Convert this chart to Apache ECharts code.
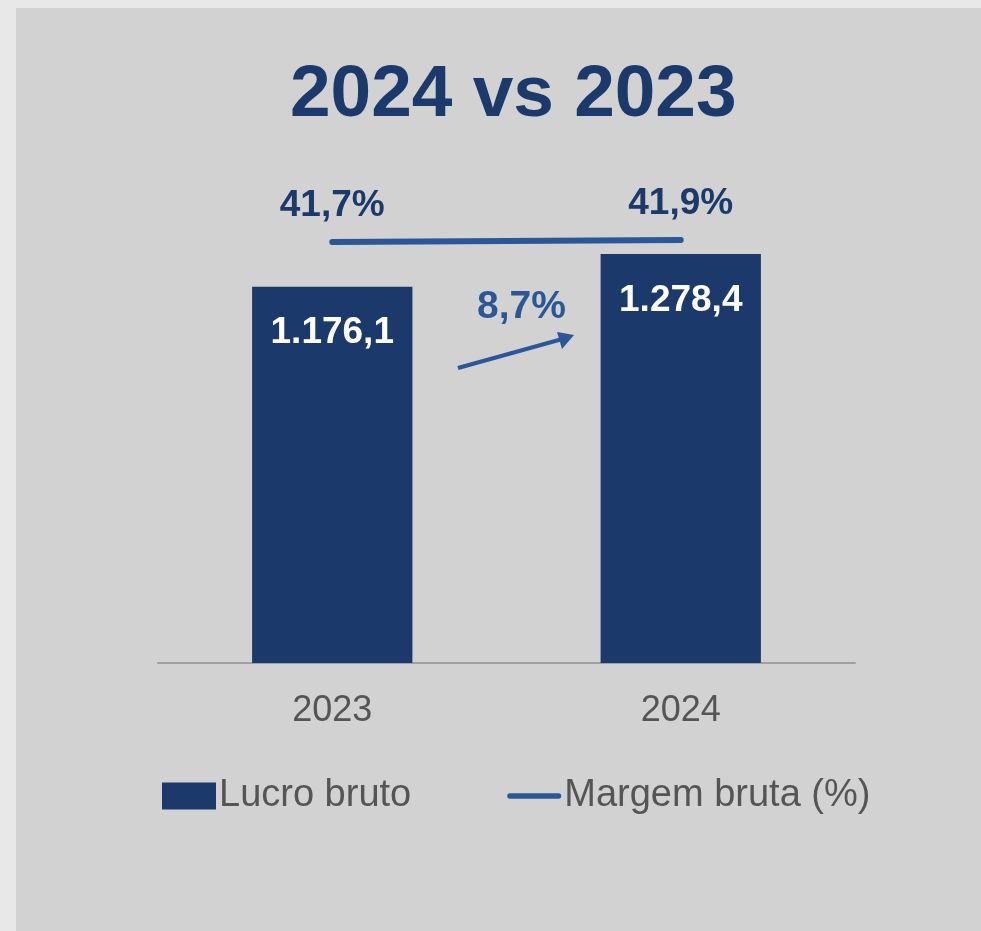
<!DOCTYPE html>
<html><head><meta charset="utf-8">
<script src="https://cdn.jsdelivr.net/npm/echarts@6/dist/echarts.min.js"></script>
<style>html,body{margin:0;padding:0;background:#e8e8e8}#c{width:981px;height:931px}</style>
</head><body><div id="c"></div>
<script>
const categories = ['2023', '2024'];
const lucroBruto = [1176.1, 1278.4];
const lucroLabels = ['1.176,1', '1.278,4'];
const margemBruta = [41.7, 41.9];
const margemLabels = ['41,7%', '41,9%'];
const growthLabel = '8,7%';
const titleText = '2024 vs 2023';

const chart = echarts.init(document.getElementById('c'));
const sans = '"Liberation Sans", Arial, sans-serif';
chart.setOption({
  backgroundColor: '#e8e8e8',
  animation: false,
  title: {
    text: titleText, left: 285, top: 54,
    textStyle: { fontFamily: sans, fontWeight: 'bold', fontSize: 73, color: '#1b3a6b' }
  },
  graphic: [
    { type: 'rect', left: 16, top: 8, z: -10, silent: true,
      shape: { width: 965, height: 923 }, style: { fill: '#d2d2d2' } },
    { type: 'text', left: 477, top: 288, z: 10,
      style: { text: growthLabel, fill: '#2b5797', font: 'bold 39px ' + sans } },
    { type: 'line', z: 10, shape: { x1: 458, y1: 368, x2: 566, y2: 338 },
      style: { stroke: '#2b5797', lineWidth: 4 } },
    { type: 'polygon', z: 10, shape: { points: [[574, 335], [557, 332], [562, 349]] },
      style: { fill: '#2b5797' } }
  ],
  legend: {
    left: 157, top: 772, itemWidth: 54, itemHeight: 27, itemGap: 96,
    textStyle: { fontFamily: sans, fontSize: 38, color: '#555555', padding: [0, 0, 0, -2] },
    data: [
      { name: 'Lucro bruto', icon: 'rect' },
      { name: 'Margem bruta (%)', icon: 'path://M3,0 L57,0 A3,3 0 0 1 57,6 L3,6 A3,3 0 0 1 3,0 Z' }
    ]
  },
  grid: { left: 158, right: 126, top: 183, bottom: 268 },
  xAxis: {
    type: 'category', data: categories,
    axisLine: { lineStyle: { color: '#a0a0a0', width: 2 } },
    axisTick: { show: false },
    axisLabel: { fontFamily: sans, fontSize: 36, color: '#555555', margin: 30 }
  },
  yAxis: [
    { type: 'value', min: 0, max: 1500, show: false, splitLine: { show: false } },
    { type: 'value', min: -0.4, max: 47.6, show: false, splitLine: { show: false } }
  ],
  series: [
    {
      name: 'Lucro bruto', type: 'bar', data: lucroBruto, barWidth: '46%',
      itemStyle: { color: '#1b3a6b' },
      label: {
        show: true, position: 'insideTop', distance: 28,
        formatter: p => lucroLabels[p.dataIndex],
        fontFamily: sans, fontWeight: 'bold', fontSize: 37, color: '#ffffff'
      }
    },
    {
      name: 'Margem bruta (%)', type: 'line', yAxisIndex: 1, data: margemBruta,
      symbol: 'circle', symbolSize: 1, showSymbol: true, z: 5,
      lineStyle: { color: '#2b5797', width: 6, cap: 'round' },
      itemStyle: { color: '#2b5797' },
      label: {
        show: true, position: 'top', distance: 17,
        formatter: p => margemLabels[p.dataIndex],
        fontFamily: sans, fontWeight: 'bold', fontSize: 37, color: '#1b3a6b'
      }
    }
  ]
});
</script></body></html>
